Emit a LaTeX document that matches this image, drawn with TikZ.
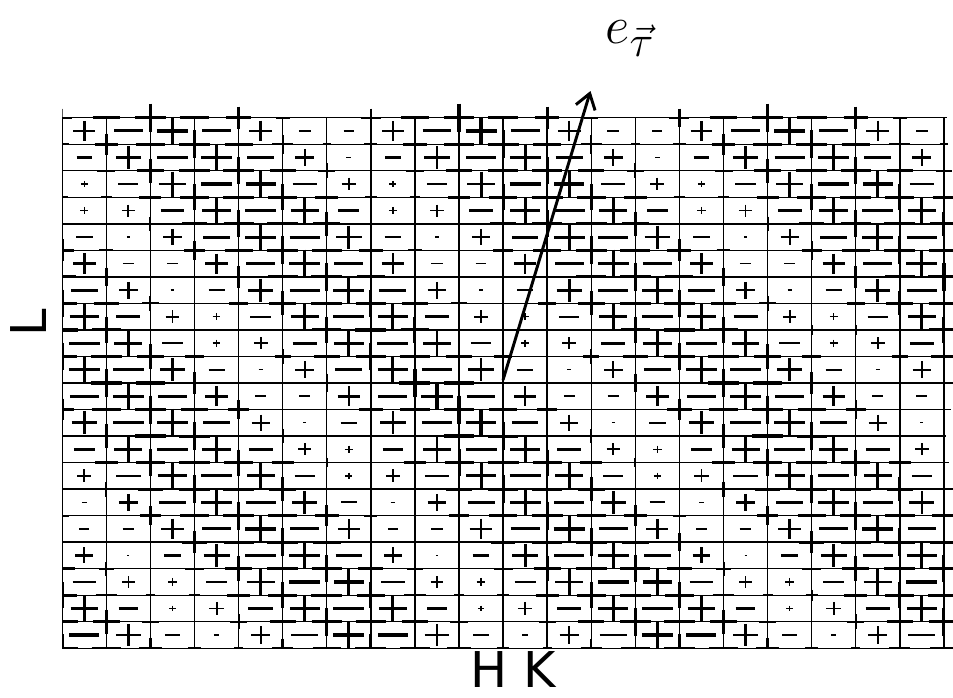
\documentclass[tikz,border=0pt]{standalone}
\usepackage{fontspec}
\newfontfamily\labelfont{DejaVu Sans}
\usetikzlibrary{arrows.meta}
\begin{document}
\begin{tikzpicture}[x=0.75pt,y=-0.75pt,
  gridline/.style={line width=1.05pt, black},
  axislabel/.style={font=\labelfont\fontsize{37}{40}\selectfont, inner sep=0pt, text depth=0pt},
  mathlabel/.style={font=\Huge, scale=1.6, inner sep=0pt},
  vecarrow/.style={line width=2.2pt, -{Straight Barb[length=11pt,width=15pt]}},
]
\useasboundingbox (0,0) rectangle (953,697);
\def\xo{62.3}\def\dx{44.08}\def\yo{117.7}\def\dy{26.53}
% grid
\foreach \i in {0,...,20}{
  \draw[gridline] ({\xo+\i*\dx},\yo) -- ({\xo+\i*\dx},{\yo+20*\dy});
  \draw[gridline] (\xo,{\yo+\i*\dy}) -- ({\xo+20*\dx},{\yo+\i*\dy});
}
% modulated +/- pattern on the centred lattice
\begin{scope}
\clip (\xo,0) rectangle (953,{\yo+20*\dy});
\foreach \u in {0,...,40}{
  \foreach \w in {0,...,40}{
    \pgfmathtruncatemacro\sP{mod(\u+\w,2)}
    \ifnum\sP=0
      \pgfmathtruncatemacro\sK{mod(abs(\u-\w)/2,2)}
      \pgfmathsetmacro\sV{(1-2*\sK)*cos(180*(\u/14-\w/23.6)-57.94)}
      \pgfmathsetmacro\sA{abs(\sV)+0.002}
      \pgfmathsetmacro\sH{15.5*\sA^0.7}
      \pgfmathsetmacro\sW{14*\sA^0.7}
      \pgfmathsetmacro\sL{0.75*(1.3+1.9*\sA)}
      \pgfmathsetmacro\sX{\xo+\u*\dx/2}
      \pgfmathsetmacro\sY{\yo+\w*\dy/2}
      \draw[line width=\sL pt] ({\sX-\sH},\sY) -- ({\sX+\sH},\sY);
      \ifdim\sV pt>0pt
        \draw[line width=\sL pt] (\sX,{\sY-\sW}) -- (\sX,{\sY+\sW});
      \fi
    \fi
  }
}
\end{scope}
% wave-vector arrow
\coordinate (tail) at (503,380);
\coordinate (tip) at (590.5,91);
\draw[vecarrow] (tail) -- (tip);
% labels
\node[mathlabel, anchor=base west] (etau) at (605,43) {$e_{\vec{\tau}}$};
\node[axislabel, anchor=south] (hk) at (513,688) {H K};
\node[axislabel, rotate=90, anchor=base] (lab) at (46,323) {L};
\end{tikzpicture}
\end{document}
